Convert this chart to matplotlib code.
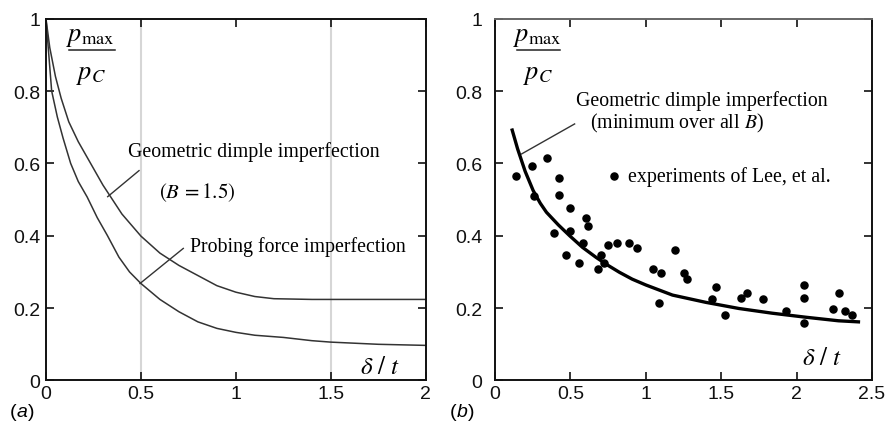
import matplotlib
matplotlib.use('Agg')
import matplotlib.pyplot as plt

plt.rcParams['mathtext.fontset'] = 'stix'
plt.rcParams['font.family'] = 'Liberation Sans'

# panel (a): collapse load vs. imperfection amplitude
dimple_x = [0.0, 0.02, 0.05, 0.08, 0.12, 0.17, 0.235, 0.3, 0.4, 0.5, 0.6,
            0.7, 0.8, 0.9, 1.0, 1.1, 1.2, 1.4, 1.7, 2.0]
dimple_y = [1.0, 0.92, 0.84, 0.78, 0.715, 0.66, 0.60, 0.54, 0.46, 0.399,
            0.352, 0.318, 0.29, 0.262, 0.244, 0.232, 0.226, 0.224, 0.224,
            0.224]
probe_x = [0.0, 0.015, 0.03, 0.06, 0.09, 0.13, 0.17, 0.217, 0.27, 0.323,
           0.384, 0.44, 0.5, 0.6, 0.7, 0.8, 0.9, 1.0, 1.1, 1.25, 1.4, 1.5,
           1.75, 2.0]
probe_y = [1.0, 0.9, 0.80, 0.728, 0.67, 0.60, 0.55, 0.507, 0.45, 0.401,
           0.341, 0.30, 0.268, 0.224, 0.19, 0.162, 0.144, 0.133, 0.125,
           0.119, 0.11, 0.106, 0.100, 0.097]

# panel (b): minimum over all B, with Lee et al. test data
mincurve_x = [0.114, 0.15, 0.2, 0.253, 0.3, 0.341, 0.42, 0.495, 0.58, 0.671,
              0.75, 0.825, 0.91, 1.0, 1.177, 1.397, 1.617, 1.837, 2.057,
              2.277, 2.41]
mincurve_y = [0.692, 0.64, 0.578, 0.525, 0.49, 0.465, 0.43, 0.40, 0.368,
              0.34, 0.318, 0.299, 0.28, 0.264, 0.236, 0.216, 0.199, 0.186,
              0.175, 0.165, 0.162]
lee_x = [0.139, 0.246, 0.343, 0.26, 0.427, 0.427, 0.497, 0.389, 0.497, 0.601,
         0.62, 0.583, 0.473, 0.554, 0.704, 0.726, 0.684, 0.75, 0.808, 0.891,
         0.939, 1.045, 1.102, 1.087, 1.193, 1.254, 1.276, 1.441, 1.467, 1.525,
         1.633, 1.672, 1.774, 1.93, 2.051, 2.051, 2.051, 2.24, 2.282, 2.32,
         2.366]
lee_y = [0.564, 0.592, 0.614, 0.511, 0.559, 0.513, 0.476, 0.408, 0.414, 0.449,
         0.427, 0.381, 0.347, 0.325, 0.347, 0.325, 0.308, 0.375, 0.381, 0.381,
         0.366, 0.308, 0.297, 0.213, 0.36, 0.297, 0.28, 0.225, 0.259, 0.181,
         0.229, 0.243, 0.224, 0.192, 0.264, 0.229, 0.159, 0.197, 0.243, 0.192,
         0.181]

yticks = [0, 0.2, 0.4, 0.6, 0.8, 1]
ytick_labels = ['0', '0.2', '0.4', '0.6', '0.8', '1']
xticks_a = [0, 0.5, 1, 1.5, 2]
xtick_labels_a = ['0', '0.5', '1', '1.5', '2']
xticks_b = [0, 0.5, 1, 1.5, 2, 2.5]
xtick_labels_b = ['0', '0.5', '1', '1.5', '2', '2.5']

serif = 'Liberation Serif'
num = r'$p_{\rm max}$'
den = r'$p_C$'
dt = r'$\delta\ /\ t$'

fig = plt.figure(figsize=(8.89, 4.27), dpi=100)
ax1 = fig.add_axes([0.0517, 0.1066, 0.4273, 0.8474])
ax2 = fig.add_axes([0.5568, 0.1066, 0.4241, 0.8474])


def style_axes(ax, xticks, xlabels, ypad):
    ax.set_ylim(0, 1)
    ax.set_xticks(xticks)
    ax.set_xticklabels(xlabels)
    ax.set_yticks(yticks)
    ax.set_yticklabels(ytick_labels)
    ax.tick_params(direction='in', top=True, right=True, length=6, width=1.2,
                   labelsize=14, colors='#111111')
    ax.tick_params(axis='x', pad=3)
    ax.tick_params(axis='y', pad=ypad)
    for sp in ax.spines.values():
        sp.set_linewidth(1.4)
        sp.set_color('#111111')


def ratio_label(ax, xc, x0, x1):
    # p_max over p_C, drawn as a stacked fraction
    ax.text(xc, 0.94, num, fontsize=19, ha='center', va='baseline')
    ax.plot([x0, x1], [0.912, 0.912], color='#222222', lw=1.1)
    ax.text(xc, 0.836, den, fontsize=19, ha='center', va='baseline')


# (a)
ax1.set_xlim(0, 2)
style_axes(ax1, xticks_a, xtick_labels_a, 4)
for gx in (0.5, 1.5):
    ax1.axvline(gx, color='#d6d6d6', lw=1.5, zorder=0)
ax1.plot(dimple_x, dimple_y, color='#333333', lw=1.1)
ax1.plot(probe_x, probe_y, color='#333333', lw=1.1)
ax1.plot([0.49, 0.325], [0.58, 0.508], color='#333333', lw=1.0)
ax1.plot([0.723, 0.495], [0.365, 0.268], color='#333333', lw=1.0)
ax1.text(0.432, 0.634, 'Geometric dimple imperfection', family=serif,
         fontsize=14.3, ha='left', va='center')
ax1.text(0.595, 0.523, r'$(B\,=1.5)$', fontsize=15, ha='left', va='center')
ax1.text(0.758, 0.372, 'Probing force imperfection', family=serif,
         fontsize=14.3, ha='left', va='center')
ratio_label(ax1, 0.235, 0.121, 0.363)
ax1.text(1.76, 0.041, dt, fontsize=18, ha='center', va='center')

# (b)
ax2.set_xlim(0, 2.5)
style_axes(ax2, xticks_b, xtick_labels_b, 9)
ax2.spines['top'].set_color('#666666')
ax2.plot(mincurve_x, mincurve_y, color='black', lw=2.4)
ax2.scatter(lee_x, lee_y, s=26, color='black', zorder=3)
ax2.plot([0.528, 0.176], [0.709, 0.626], color='#333333', lw=1.0)
ax2.text(0.54, 0.775, 'Geometric dimple imperfection', family=serif,
         fontsize=14.3, ha='left', va='center')
ax2.text(0.627, 0.712, '(minimum over all $B$)', family=serif,
         fontsize=14.3, ha='left', va='center')
ax2.scatter([0.792], [0.564], s=26, color='black')
ax2.text(0.88, 0.565, 'experiments of Lee, et al.', family=serif,
         fontsize=14.3, ha='left', va='center')
ratio_label(ax2, 0.284, 0.143, 0.429)
ax2.text(2.165, 0.065, dt, fontsize=18, ha='center', va='center')

# panel tags with italic letters
for x0, letter in ((10, 'a'), (450, 'b')):
    fig.text(x0 / 889, 1 - 413 / 427, '(', fontsize=14, va='center')
    fig.text((x0 + 6.5) / 889, 1 - 413 / 427, letter, fontsize=14,
             style='italic', va='center')
    fig.text((x0 + 17.5) / 889, 1 - 413 / 427, ')', fontsize=14, va='center')

fig.savefig('out.png', dpi=100)
